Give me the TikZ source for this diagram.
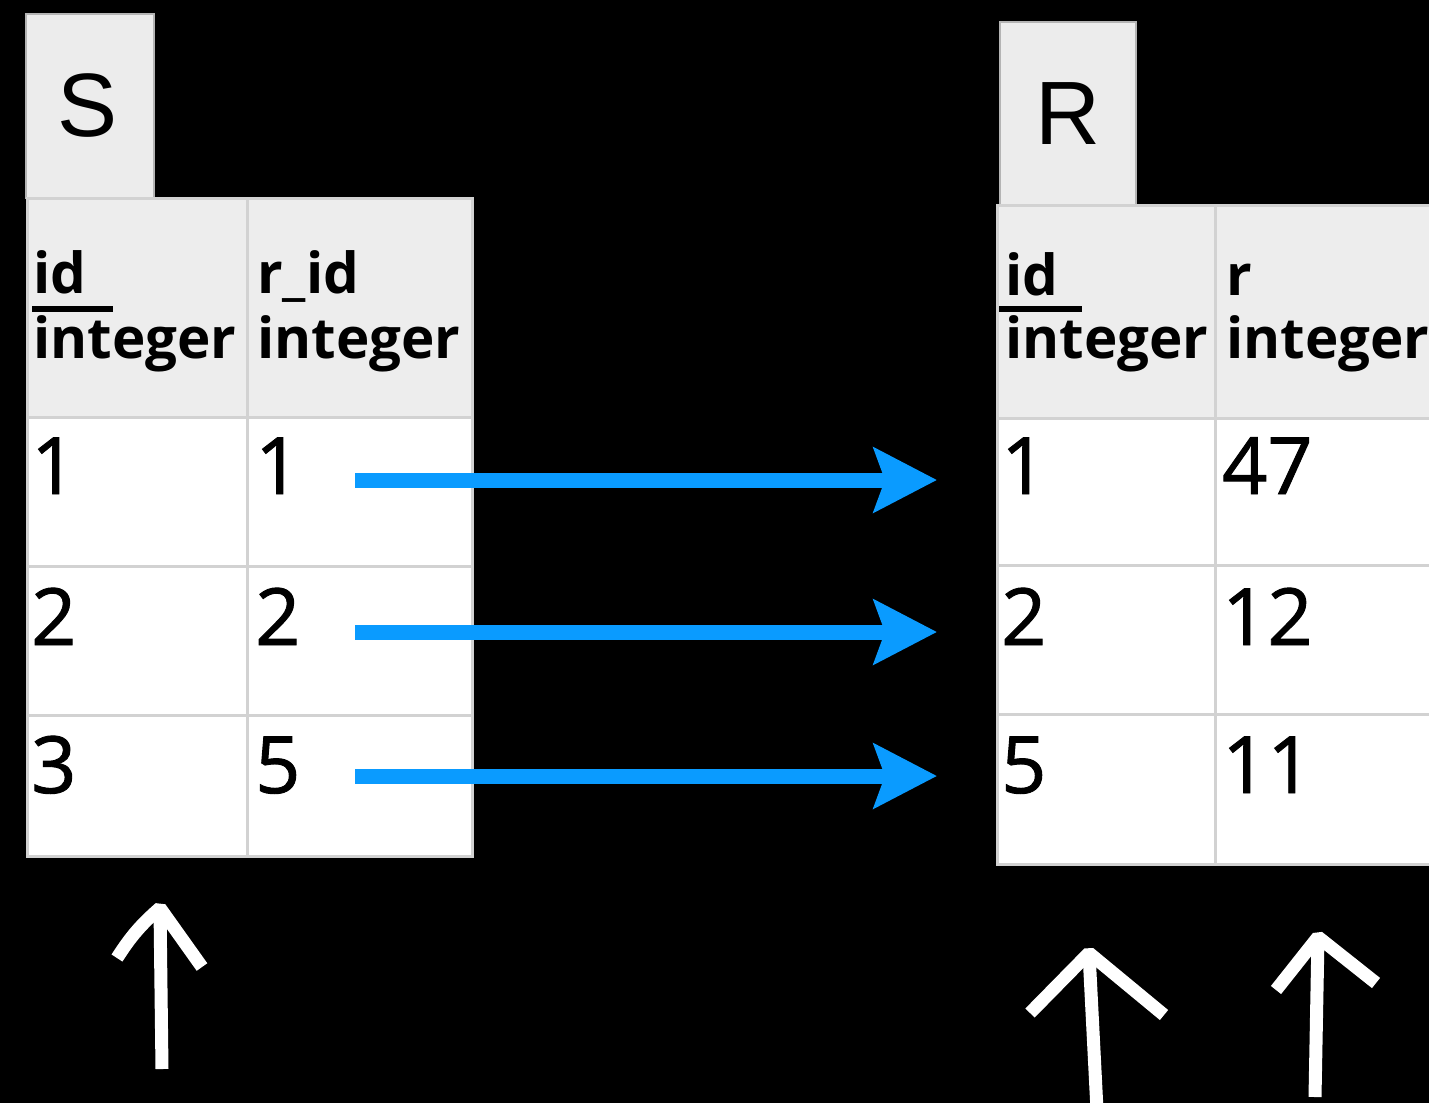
\documentclass[tikz,border=0pt]{standalone}
\usepackage{fontspec}
\usetikzlibrary{arrows.meta}
\newfontfamily\osans{Open Sans}
\newfontfamily\onum{Open Sans}[FakeBold=1.2]
\newfontfamily\helv{Liberation Sans}
\definecolor{tabgray}{HTML}{ECECEC}
\definecolor{hdrgray}{HTML}{EDEDED}
\definecolor{gridgray}{HTML}{D2D2D2}
\definecolor{edgegray}{HTML}{B4B4B4}
\definecolor{linkblue}{HTML}{0A9BFF}
\tikzset{
  tabbox/.style={fill=tabgray, draw=edgegray, line width=1.5pt, inner sep=0pt, anchor=north west},
  hdrbox/.style={fill=hdrgray, draw=gridgray, line width=2.5pt, inner sep=0pt, anchor=north west},
  cellbox/.style={fill=white, draw=gridgray, line width=2.5pt, inner sep=0pt, anchor=north west},
  tabtext/.style={inner sep=0pt, font=\helv\fontsize{90}{90}\selectfont},
  hdrtext/.style={inner sep=0pt, anchor=base west, font=\osans\bfseries\fontsize{56.5}{56.5}\selectfont},
  numtext/.style={inner sep=0pt, anchor=base west, font=\onum\fontsize{79}{79}\selectfont},
  keyline/.style={line width=6pt, black},
  linkarrow/.style={draw=linkblue, fill=linkblue, line width=15pt, -{Stealth[length=63pt, width=64pt, inset=11pt]}},
  hand/.style={white, line width=13pt, line join=bevel}
}
\begin{document}
\begin{tikzpicture}[x=1pt, y=-1pt]
\fill[black] (0,0) rectangle (1429,1103);
\clip (0,0) rectangle (1429,1103);

% ---------- table S ----------
\node[tabbox, minimum width=128pt, minimum height=184pt] (Stab) at (25,13) {};
\node[tabtext] (Sname) at (88,106) {S};
\node[hdrbox, minimum width=220pt, minimum height=219pt] (Sh1) at (26,197) {};
\node[hdrbox, minimum width=225pt, minimum height=219pt] (Sh2) at (246,197) {};
\node[cellbox, minimum width=220pt, minimum height=149pt] (S11) at (26,416) {};
\node[cellbox, minimum width=225pt, minimum height=149pt] (S12) at (246,416) {};
\node[cellbox, minimum width=220pt, minimum height=149pt] (S21) at (26,565) {};
\node[cellbox, minimum width=225pt, minimum height=149pt] (S22) at (246,565) {};
\node[cellbox, minimum width=220pt, minimum height=141pt] (S31) at (26,714) {};
\node[cellbox, minimum width=225pt, minimum height=141pt] (S32) at (246,714) {};

\node[hdrtext] (Sid) at (33,293) {id};
\draw[keyline] (32,309) -- (113,309);
\node[hdrtext] (Sidt) at (33,358) {integer};
\node[hdrtext] (Srid) at (257,293) {r\_id};
\node[hdrtext] (Sridt) at (257,358) {integer};

\node[numtext] (v11) at (31,494) {1};
\node[numtext] (v12) at (255,494) {1};
\node[numtext] (v21) at (31,645) {2};
\node[numtext] (v22) at (255,645) {2};
\node[numtext] (v31) at (31,793) {3};
\node[numtext] (v32) at (255,793) {5};

% ---------- table R ----------
\node[tabbox, minimum width=136pt, minimum height=183pt] (Rtab) at (999,21) {};
\node[tabtext] (Rname) at (1068,114) {R};
\node[hdrbox, minimum width=218pt, minimum height=213pt] (Rh1) at (996,204) {};
\node[hdrbox, minimum width=240pt, minimum height=213pt] (Rh2) at (1214,204) {};
\node[cellbox, minimum width=218pt, minimum height=147pt] (R11) at (996,417) {};
\node[cellbox, minimum width=240pt, minimum height=147pt] (R12) at (1214,417) {};
\node[cellbox, minimum width=218pt, minimum height=149pt] (R21) at (996,564) {};
\node[cellbox, minimum width=240pt, minimum height=149pt] (R22) at (1214,564) {};
\node[cellbox, minimum width=218pt, minimum height=150pt] (R31) at (996,713) {};
\node[cellbox, minimum width=240pt, minimum height=150pt] (R32) at (1214,713) {};

\node[hdrtext] (Rid) at (1005,295) {id};
\draw[keyline] (999,309) -- (1082,309);
\node[hdrtext] (Ridt) at (1005,358) {integer};
\node[hdrtext] (Rr) at (1226,295) {r};
\node[hdrtext] (Rrt) at (1226,358) {integer};

\node[numtext] (w11) at (1001,494) {1};
\node[numtext] (w12) at (1222,494) {47};
\node[numtext] (w21) at (1001,645) {2};
\node[numtext] (w22) at (1222,645) {12};
\node[numtext] (w31) at (1001,793) {5};
\node[numtext] (w32) at (1222,793) {11};

% ---------- blue links ----------
\coordinate (l1a) at (355,480); \coordinate (l1b) at (937,480);
\coordinate (l2a) at (355,632); \coordinate (l2b) at (937,632);
\coordinate (l3a) at (355,776); \coordinate (l3b) at (937,776);
\draw[linkarrow] (l1a) -- (l1b);
\draw[linkarrow] (l2a) -- (l2b);
\draw[linkarrow] (l3a) -- (l3b);

% ---------- hand-drawn arrows ----------
\coordinate (h1b) at (162,1069); \coordinate (h1t) at (160,908);
\coordinate (h1l) at (117,958); \coordinate (h1r) at (202,967);
\draw[hand] (h1b) -- (h1t);
\draw[hand] (h1l) to[bend left=8] (h1t) -- (h1r);

\coordinate (h2b) at (1097,1110); \coordinate (h2t) at (1089,953);
\coordinate (h2l) at (1030,1013); \coordinate (h2r) at (1164,1015);
\draw[hand] (h2b) -- (h2t);
\draw[hand] (h2l) -- (h2t) -- (h2r);

\coordinate (h3b) at (1315,1097); \coordinate (h3t) at (1318,937);
\coordinate (h3l) at (1276,990); \coordinate (h3r) at (1376,983);
\draw[hand] (h3b) -- (h3t);
\draw[hand] (h3l) -- (h3t) -- (h3r);
\end{tikzpicture}
\end{document}
